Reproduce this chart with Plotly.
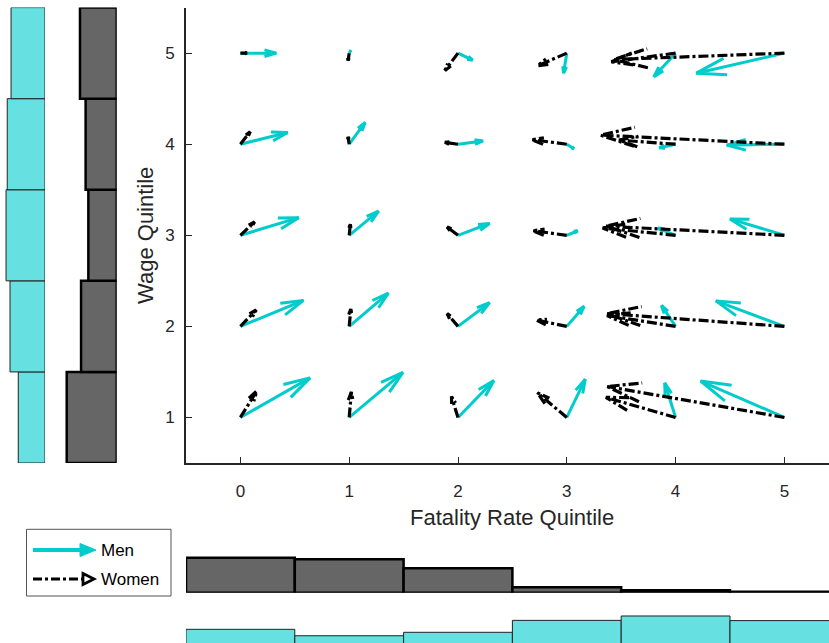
import math
import plotly.graph_objects as go

# ---------------- data ----------------
fat_q = [0, 1, 2, 3, 4, 5]          # fatality-rate quintile (x)
wage_q = [1, 2, 3, 4, 5]            # wage quintile (y)

# quiver components; rows = wage quintile 1..5, columns = fatality quintile 0..5
men_u = [
    [0.64, 0.494, 0.33, 0.17, -0.10, -0.77],
    [0.58, 0.36, 0.29, 0.16, -0.13, -0.63],
    [0.536, 0.27, 0.29, 0.10, -0.16, -0.50],
    [0.435, 0.147, 0.23, 0.065, -0.15, -0.53],
    [0.33, 0.015, 0.135, -0.03, -0.20, -0.81],
]
men_v = [
    [0.435, 0.495, 0.405, 0.42, 0.38, 0.40],
    [0.285, 0.365, 0.26, 0.22, 0.23, 0.28],
    [0.194, 0.266, 0.13, 0.05, 0.08, 0.18],
    [0.128, 0.24, 0.036, -0.05, -0.04, -0.01],
    [0.0, 0.03, -0.077, -0.22, -0.26, -0.22],
]
women_u = [
    [0.15, 0.02, -0.06, -0.27, -0.64, -1.63],
    [0.145, 0.015, -0.10, -0.28, -0.63, -1.63],
    [0.13, 0.01, -0.10, -0.31, -0.67, -1.64],
    [0.09, -0.01, -0.12, -0.32, -0.52, -1.69],
    [0.06, -0.01, -0.12, -0.27, -0.59, -1.57],
]
women_v = [
    [0.29, 0.28, 0.23, 0.27, 0.22, 0.34],
    [0.18, 0.19, 0.14, 0.07, 0.12, 0.14],
    [0.146, 0.12, 0.09, 0.05, 0.08, 0.10],
    [0.137, 0.08, 0.02, 0.05, 0.045, 0.10],
    [0.0, -0.08, -0.19, -0.14, -0.095, -0.07],
]

# marginal distributions (shares)
men_wage_share = [0.155, 0.203, 0.226, 0.219, 0.197]
women_wage_share = [0.275, 0.196, 0.156, 0.171, 0.202]
men_fat_share = [0.151, 0.123, 0.138, 0.190, 0.209, 0.189]
women_fat_share = [0.344, 0.329, 0.240, 0.053, 0.024, 0.010]

# ---------------- layout geometry ----------------
W, H = 829, 643
PL, PR, PT, PB = 186, 829, 7.6, 463
XR = [-0.5, 5.41]
YR = [0.5, 5.5]
sx = (PR - PL) / (XR[1] - XR[0])
sy = (PB - PT) / (YR[1] - YR[0])

CYAN = "rgb(0,204,204)"
CYAN_FILL = "rgb(102,224,224)"
GRAY_FILL = "rgb(102,102,102)"
AX = "#262626"
FONT = "Liberation Sans, Arial, sans-serif"


def px(x):
    return x / W


def py(y):
    return 1 - y / H


def quiver_xy(us, vs):
    xs, ys = [], []
    for j, yq in enumerate(wage_q):
        for i, xq in enumerate(fat_q):
            u, v = us[j][i], vs[j][i]
            x1, y1 = xq + u, yq + v
            xs += [xq, x1, None]
            ys += [yq, y1, None]
            du, dv = u * sx, v * sy
            L = math.hypot(du, dv)
            if L < 1e-9:
                continue
            h = min(0.33 * L, 34)
            w = 0.28 * h
            ex, ey = du / L, dv / L
            nx, ny = -ey, ex
            b1x = du - h * ex + w * nx
            b1y = dv - h * ey + w * ny
            b2x = du - h * ex - w * nx
            b2y = dv - h * ey - w * ny
            xs += [xq + b1x / sx, x1, xq + b2x / sx, None]
            ys += [yq + b1y / sy, y1, yq + b2y / sy, None]
    return xs, ys


fig = go.Figure()

# quivers
mx, my = quiver_xy(men_u, men_v)
fig.add_trace(go.Scatter(x=mx, y=my, mode="lines", name="Men",
                         line=dict(color=CYAN, width=3), connectgaps=False,
                         hoverinfo="skip", showlegend=False))
wx, wy = quiver_xy(women_u, women_v)
fig.add_trace(go.Scatter(x=wx, y=wy, mode="lines", name="Women",
                         line=dict(color="black", width=3.2, dash="10px,3px,3px,3px"),
                         connectgaps=False, hoverinfo="skip", showlegend=False))

# left marginal histograms (wage)
fig.add_trace(go.Bar(orientation="h", y=wage_q, x=men_wage_share, width=1,
                     xaxis="x3", yaxis="y",
                     marker=dict(color=CYAN_FILL, line=dict(color="#222", width=1)),
                     showlegend=False, hoverinfo="skip"))
fig.add_trace(go.Bar(orientation="h", y=wage_q, x=women_wage_share, width=1,
                     xaxis="x4", yaxis="y",
                     marker=dict(color=GRAY_FILL, line=dict(color="black", width=2.5)),
                     showlegend=False, hoverinfo="skip"))

# bottom marginal histograms (fatality)
fig.add_trace(go.Bar(x=fat_q, y=women_fat_share, width=1, xaxis="x", yaxis="y5",
                     marker=dict(color=GRAY_FILL, line=dict(color="black", width=2.5)),
                     showlegend=False, hoverinfo="skip"))
fig.add_trace(go.Bar(x=fat_q, y=men_fat_share, width=1, xaxis="x", yaxis="y6",
                     marker=dict(color=CYAN_FILL, line=dict(color="#222", width=1)),
                     showlegend=False, hoverinfo="skip"))

# scales of marginal axes (pixels per share unit)
k_men_wage = 172.4
k_women_wage = 181.8
k_women_fat = 101.6
k_men_fat = 229.7
men_fat_base = 664  # baseline pixel of the (clipped) bottom cyan histogram

hidden = dict(visible=False, showgrid=False, zeroline=False, fixedrange=True)

fig.update_layout(
    width=W, height=H,
    margin=dict(l=0, r=0, t=0, b=0),
    paper_bgcolor="white", plot_bgcolor="rgba(0,0,0,0)",
    barmode="overlay",
    showlegend=False,
    font=dict(family=FONT, color=AX, size=16),
    xaxis=dict(domain=[px(PL), px(PR)], range=XR, tickvals=fat_q,
               ticktext=[str(v) for v in fat_q], showline=True, linecolor=AX,
               linewidth=1.6, ticks="inside", ticklen=6, tickwidth=1.4,
               tickcolor=AX, showgrid=False, zeroline=False, anchor="y",
               tickfont=dict(size=17, family=FONT, color=AX),
               ticklabelstandoff=12),
    yaxis=dict(domain=[py(PB), py(PT)], range=YR, tickvals=wage_q,
               ticktext=[str(v) for v in wage_q], showline=True, linecolor=AX,
               linewidth=1.6, ticks="inside", ticklen=6, tickwidth=1.4,
               tickcolor=AX, showgrid=False, zeroline=False, anchor="x",
               tickfont=dict(size=17, family=FONT, color=AX),
               ticklabelstandoff=6),
    xaxis3=dict(domain=[0, px(45)], range=[45 / k_men_wage, 0], anchor="y", **hidden),
    xaxis4=dict(domain=[0, px(116.7)], range=[116.7 / k_women_wage, 0], anchor="y", **hidden),
    yaxis5=dict(domain=[py(592.7), py(545)], range=[0, (592.7 - 545) / k_women_fat],
                anchor="x", **hidden),
    yaxis6=dict(domain=[0, py(600)],
                range=[(men_fat_base - H) / k_men_fat, (men_fat_base - 600) / k_men_fat],
                anchor="x", **hidden),
)

# axis titles
fig.add_annotation(x=px(512), y=py(517), xref="paper", yref="paper",
                   text="Fatality Rate Quintile", showarrow=False,
                   font=dict(size=22, family=FONT, color=AX),
                   xanchor="center", yanchor="middle")
fig.add_annotation(x=px(145), y=py(236), xref="paper", yref="paper",
                   text="Wage Quintile", showarrow=False, textangle=-90,
                   font=dict(size=22, family=FONT, color=AX),
                   xanchor="center", yanchor="middle")

# legend (manual)
fig.add_shape(type="rect", xref="paper", yref="paper",
              x0=px(26.5), x1=px(171), y0=py(596), y1=py(529.3),
              line=dict(color="#555", width=1), fillcolor="white")
fig.add_shape(type="line", xref="paper", yref="paper",
              x0=px(33), x1=px(84), y0=py(550), y1=py(550),
              line=dict(color=CYAN, width=4))
fig.add_shape(type="path", xref="paper", yref="paper",
              path=f"M {px(80)} {py(543.5)} L {px(96)} {py(550)} L {px(80)} {py(556.5)} Z",
              line=dict(color=CYAN, width=1), fillcolor=CYAN)
fig.add_shape(type="line", xref="paper", yref="paper",
              x0=px(33), x1=px(82), y0=py(579), y1=py(579),
              line=dict(color="black", width=3, dash="dashdot"))
fig.add_shape(type="path", xref="paper", yref="paper",
              path=f"M {px(83)} {py(573.5)} L {px(94)} {py(579)} L {px(83)} {py(584.5)} Z",
              line=dict(color="black", width=2.8), fillcolor="white")
fig.add_annotation(x=px(99), y=py(550), xref="paper", yref="paper", text="Men",
                   showarrow=False, xanchor="left", yanchor="middle",
                   font=dict(size=17, family=FONT, color="black"))
fig.add_annotation(x=px(99), y=py(579), xref="paper", yref="paper", text="Women",
                   showarrow=False, xanchor="left", yanchor="middle",
                   font=dict(size=17, family=FONT, color="black"))

fig.write_html("out.html")
